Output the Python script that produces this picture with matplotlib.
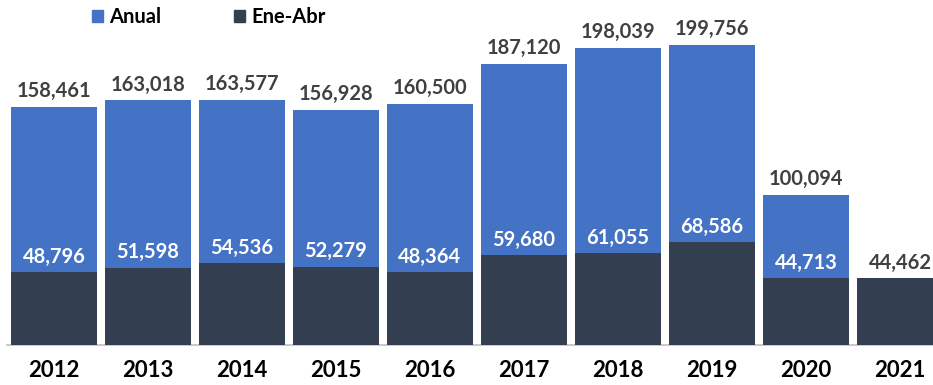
import matplotlib.pyplot as plt
from matplotlib.patches import Patch

years = ["2012", "2013", "2014", "2015", "2016", "2017", "2018", "2019", "2020", "2021"]
anual = [158461, 163018, 163577, 156928, 160500, 187120, 198039, 199756, 100094, None]
ene_abr = [48796, 51598, 54536, 52279, 48364, 59680, 61055, 68586, 44713, 44462]

BLUE = "#4472C4"
DARK = "#333F50"
LABEL = "#404040"

plt.rcParams["font.family"] = ["Lato", "DejaVu Sans"]
plt.rcParams["font.weight"] = "bold"

fig = plt.figure(figsize=(9.33, 3.85), dpi=100)
ax = fig.add_axes([7 / 933, 40 / 385, 926 / 933, 345 / 385])

x = list(range(len(years)))
w = 0.915

for i, (a, e) in enumerate(zip(anual, ene_abr)):
    if a is not None:
        ax.bar(i, a, width=w, color=BLUE, zorder=2)
        ax.annotate(f"{a:,}", (i, a), xytext=(0, 11.5), textcoords="offset points",
                    ha="center", va="center", fontsize=14.5, fontweight="bold", color=LABEL)
        inner = "white"
    else:
        inner = LABEL
    ax.bar(i, e, width=w, color=DARK, zorder=3)
    ax.annotate(f"{e:,}", (i, e), xytext=(0, 11), textcoords="offset points",
                ha="center", va="center", fontsize=14.5, fontweight="bold", color=inner)

ax.set_xlim(-0.5, -0.5 + 926 / 94)
ax.set_ylim(0, 230000)
ax.set_xticks(x)
ax.set_xticklabels(years, fontsize=16, fontweight="bold", color="black")
ax.tick_params(axis="x", length=0, pad=11)
ax.set_yticks([])
for s in ["top", "right", "left"]:
    ax.spines[s].set_visible(False)
ax.spines["bottom"].set_color("#BFBFBF")
ax.spines["bottom"].set_linewidth(1.2)

handles = [Patch(color=BLUE, label="Anual"), Patch(color=DARK, label="Ene-Abr")]
fig.legend(handles=handles, loc="center left", bbox_to_anchor=(74 / 933, 1 - 17 / 385),
           ncol=2, frameon=False, handlelength=0.55, handleheight=0.55, handletextpad=0.3,
           columnspacing=3.6, prop={"family": ["Lato", "DejaVu Sans"], "weight": "bold", "size": 14.5})

fig.savefig("out.png", dpi=100)
